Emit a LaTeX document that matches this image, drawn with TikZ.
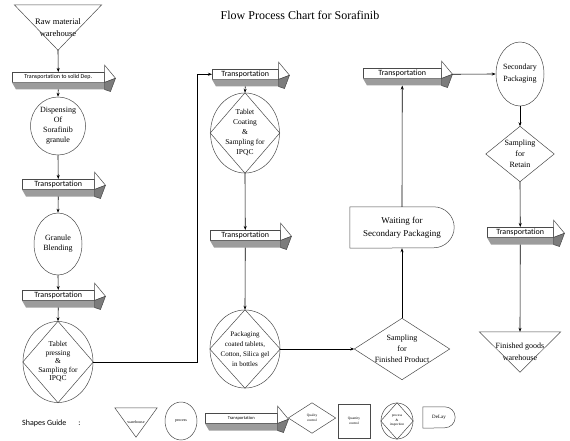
\documentclass[tikz,border=0pt]{standalone}
\usepackage{fontspec}
\setmainfont{Liberation Serif}
\setsansfont{Carlito}[Ligatures=NoCommon]
\usetikzlibrary{shapes.geometric,arrows.meta}

\definecolor{sidegray}{HTML}{9C9C9C}
\definecolor{headgray}{HTML}{7C7C7C}
\definecolor{edgegray}{HTML}{4A4A4A}

\begin{document}
\begin{tikzpicture}[x=1pt,y=-1pt,
  every node/.style={inner sep=0pt, align=center},
  shp/.style={draw=edgegray, line width=0.5pt},
  arr/.style={line width=0.6pt, -{Stealth[length=4pt,width=3pt]}},
  wareh/.style={rectangle},
  proc/.style={ellipse, shp},
  qc/.style={rectangle},
  delaybox/.style={rectangle},
  transp/.style={rectangle, shp, fill=white, minimum height=10pt, anchor=north west,
    font=\sffamily\fontsize{8}{9}\selectfont},
  txt/.style={font=\fontsize{8}{10}\selectfont}]
  \useasboundingbox (0,0) rectangle (570,441);

  % Title
  \node[font=\fontsize{12}{14}\selectfont] (title) at (300,15) {Flow Process Chart for Sorafinib};

  % First column
  \node[wareh, minimum width=87pt, minimum height=45pt, font=\fontsize{8.5}{12}\selectfont] (raw) at (58,27.5) {Raw material\\warehouse};
  \node[transp, minimum width=92pt, font=\sffamily\fontsize{6}{7}\selectfont] (tr1) at (12,72) {Transportation to solid Dep.};
  \node[proc, minimum width=55pt, minimum height=58pt, txt] (disp) at (58,126) {Dispensing\\Of\\Sorafinib\\granule};
  \node[transp, minimum width=72pt] (tr2) at (22,179) {Transportation};
  \node[proc, minimum width=48pt, minimum height=62pt, txt] (blend) at (58,244) {Granule\\Blending};
  \node[transp, minimum width=72pt] (tr3) at (22,290) {Transportation};
  \node[proc, minimum width=70pt, minimum height=81pt, font=\fontsize{7.5}{8.5}\selectfont] (press) at (58,362) {Tablet\\pressing\\\&\\Sampling for\\IPQC};

  % Second column
  \node[transp, minimum width=66pt] (tr4) at (212,69) {Transportation};
  \node[proc, minimum width=69pt, minimum height=80pt, font=\fontsize{7.5}{10}\selectfont] (coat) at (245,133) {Tablet\\Coating\\\&\\Sampling for\\IPQC};
  \node[transp, minimum width=70pt] (tr5) at (210,230) {Transportation};
  \node[proc, minimum width=70pt, minimum height=78pt, font=\fontsize{7}{10}\selectfont] (pack) at (245,349) {Packaging\\coated tablets,\\Cotton, Silica gel\\in bottles};

  % Third column
  \node[qc, minimum width=95pt, minimum height=61pt, font=\fontsize{8}{11}\selectfont] (sfp) at (402,349) {Sampling\\for\\Finished Product};
  \node[delaybox, minimum width=104pt, minimum height=41pt, font=\fontsize{9}{13}\selectfont] (wait) at (402,227.5) {Waiting for\\Secondary Packaging};
  \node[transp, minimum width=78pt] (tr6) at (363,68) {Transportation};

  % Fourth column
  \node[proc, minimum width=48pt, minimum height=64pt, font=\fontsize{8}{12}\selectfont] (sec) at (520,74) {Secondary\\Packaging};
  \node[qc, minimum width=68pt, minimum height=55pt, font=\fontsize{8}{11}\selectfont] (ret) at (520,154) {Sampling\\for\\Retain};
  \node[transp, minimum width=66pt] (tr7) at (487,227) {Transportation};
  \node[wareh, minimum width=81pt, minimum height=40pt, font=\fontsize{8}{12}\selectfont] (fin) at (520,352) {Finished goods\\warehouse};

  % Shapes guide
  \node[anchor=west, font=\sffamily\fontsize{8}{10}\selectfont] (guide) at (22,423) {Shapes Guide\hspace{12pt}:};
  \node[wareh, minimum width=42pt, minimum height=29pt, font=\fontsize{4}{5}\selectfont] (lgw) at (136,422.5) {warehouse};
  \node[proc, minimum width=32pt, minimum height=38pt, font=\fontsize{4}{5}\selectfont] (lgp) at (181,421) {process};
  \node[transp, minimum width=72pt, font=\sffamily\fontsize{4.5}{5}\selectfont] (lgt) at (205,413) {Transportation};
  \node[qc, minimum width=47pt, minimum height=30pt, font=\fontsize{3.5}{4.5}\selectfont] (lgq) at (312,418) {Quality\\control};
  \node[rectangle, shp, minimum width=32pt, minimum height=34pt, font=\fontsize{3.5}{4.5}\selectfont] (lgn) at (354,421) {Quantity\\control};
  \node[proc, minimum width=32pt, minimum height=36pt, font=\fontsize{3.5}{4.5}\selectfont] (lgpi) at (397,421) {process\\\&\\inspection};
  \node[delaybox, minimum width=32pt, minimum height=21pt, font=\fontsize{5}{6}\selectfont] (lgd) at (439,417.5) {DeLay};

  % Outlines drawn from the node anchors
  \foreach \n in {raw,fin,lgw}
    \draw[shp] (\n.north west) -- (\n.north east) -- (\n.south) -- cycle;
  \foreach \n in {press,coat,pack,sfp,ret,lgq,lgpi}
    \draw[shp] (\n.north) -- (\n.east) -- (\n.south) -- (\n.west) -- cycle;
  \foreach \n/\r in {wait/20.5pt,lgd/10.5pt}
    \draw[shp] (\n.south west) -- (\n.north west) -- ([xshift=-\r]\n.north east)
      arc[start angle=90, end angle=-90, radius=\r] -- cycle;
  \foreach \n in {tr1,tr2,tr3,tr4,tr5,tr6,tr7,lgt} {
    \fill[sidegray] (\n.south west) -- (\n.south east) -- ([yshift=-7pt]\n.south east)
      -- ([xshift=4pt,yshift=-7pt]\n.south west) -- cycle;
    \filldraw[shp, fill=white] ([yshift=7pt]\n.north east) -- ([xshift=11pt,yshift=-1pt]\n.east)
      -- (\n.south east) -- cycle;
    \filldraw[shp, fill=headgray] ([xshift=11pt,yshift=-1pt]\n.east) -- ([xshift=6pt,yshift=-9pt]\n.south east)
      -- ([yshift=-7pt]\n.south east) -- (\n.south east) -- cycle;
  }

  % Connectors
  \coordinate (bend1) at (197,362);
  \draw[arr] (raw.south) -- (tr1.north);
  \draw[arr] ([yshift=-7pt]tr1.south) -- (disp.north);
  \draw[arr] (disp.south) -- (tr2.north);
  \draw[arr] ([yshift=-7pt]tr2.south) -- (blend.north);
  \draw[arr] (blend.south) -- (tr3.north);
  \draw[arr] ([yshift=-7pt]tr3.south) -- (press.north);
  \draw[arr] (press.east) -- (bend1) |- (tr4.west);
  \draw[arr] ([yshift=-7pt]tr4.south) -- (coat.north);
  \draw[arr] (coat.south) -- (tr5.north);
  \draw[arr] ([yshift=-7pt]tr5.south) -- (pack.north);
  \draw[arr] (pack.east) -- (sfp.west);
  \draw[arr] (sfp.north) -- (wait.south);
  \draw[arr] (wait.north) -- ([yshift=-7pt]tr6.south);
  \draw[arr] ([xshift=11pt,yshift=-1pt]tr6.east) -- (sec.west);
  \draw[arr] (sec.south) -- (ret.north);
  \draw[arr] (ret.south) -- (tr7.north);
  \draw[arr] ([yshift=-7pt]tr7.south) -- (fin.north);
\end{tikzpicture}
\end{document}
